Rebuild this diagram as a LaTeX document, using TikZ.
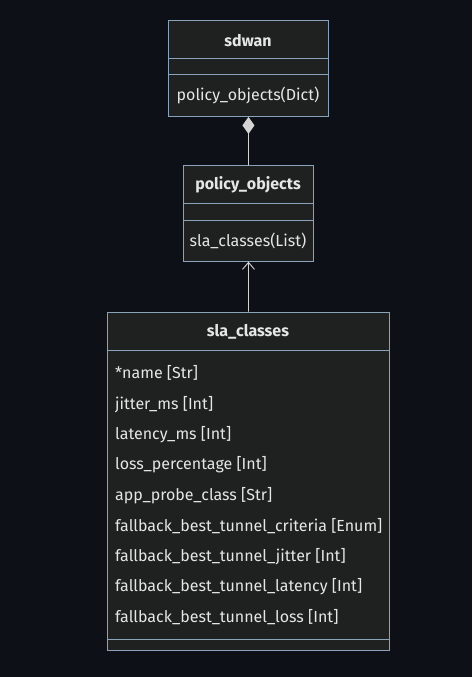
\documentclass[tikz,border=0pt]{standalone}
\usepackage{fontspec}
\setmainfont{Fira Sans}
\usetikzlibrary{arrows.meta}
\definecolor{bg}{HTML}{0D1117}
\definecolor{boxfill}{HTML}{1F2020}
\definecolor{boxline}{HTML}{8AA2BC}
\definecolor{txt}{HTML}{E6E6E6}
\definecolor{conn}{HTML}{D4D4D4}
\begin{document}
\begin{tikzpicture}[x=1pt,y=-1pt,
  classbox/.style={draw=boxline,fill=boxfill,line width=0.9pt,inner sep=0pt,anchor=north west},
  title/.style={text=txt,font=\fontsize{16}{19}\selectfont\bfseries,inner sep=0pt},
  attr/.style={text=txt,font=\fontsize{16}{19}\selectfont,inner sep=0pt,anchor=west},
  divider/.style={draw=boxline,line width=0.9pt},
  link/.style={draw=conn,line width=0.9pt}]
\useasboundingbox[fill=bg] (0,0) rectangle (472,677);
% sdwan
\node[classbox,minimum width=160pt,minimum height=96pt] (sdwan) at (168,20) {};
\draw[divider] (168,58) -- (328,58);
\draw[divider] (168,74) -- (328,74);
\node[title] (sdwanT) at (248,40.5) {sdwan};
\node[attr,anchor=center] (sdwanA) at (248,95) {policy\_objects(Dict)};
% policy_objects
\node[classbox,minimum width=129.5pt,minimum height=95.5pt] (pobj) at (183.3,165.3) {};
\draw[divider] (183.3,203.7) -- (312.8,203.7);
\draw[divider] (183.3,220) -- (312.8,220);
\node[title] (pobjT) at (248,185) {policy\_objects};
\node[attr,anchor=center] (pobjA) at (248,240.5) {sla\_classes(List)};
% sla_classes
\node[classbox,minimum width=282.6pt,minimum height=338.3pt] (slac) at (106.7,311.7) {};
\draw[divider] (106.7,350) -- (389.3,350);
\draw[divider] (106.7,639.3) -- (389.3,639.3);
\node[title] (slacT) at (248,331.5) {sla\_classes};
\node[attr] (a1) at (115,373.3) {*name [Str]};
\node[attr] (a2) at (115,404.3) {jitter\_ms [Int]};
\node[attr] (a3) at (115,434.7) {latency\_ms [Int]};
\node[attr] (a4) at (115,465) {loss\_percentage [Int]};
\node[attr] (a5) at (115,495.3) {app\_probe\_class [Str]};
\node[attr] (a6) at (115,525.7) {fallback\_best\_tunnel\_criteria [Enum]};
\node[attr] (a7) at (115,556.3) {fallback\_best\_tunnel\_jitter [Int]};
\node[attr] (a8) at (115,586.3) {fallback\_best\_tunnel\_latency [Int]};
\node[attr] (a9) at (115,616.7) {fallback\_best\_tunnel\_loss [Int]};
% connectors
\draw[link,-{Diamond[length=17pt,width=12pt,fill=conn]}] (pobj.north) -- (sdwan.south);
\draw[link,-{Straight Barb[length=7pt,width=12pt]}] (slac.north) -- (pobj.south);
\end{tikzpicture}
\end{document}
